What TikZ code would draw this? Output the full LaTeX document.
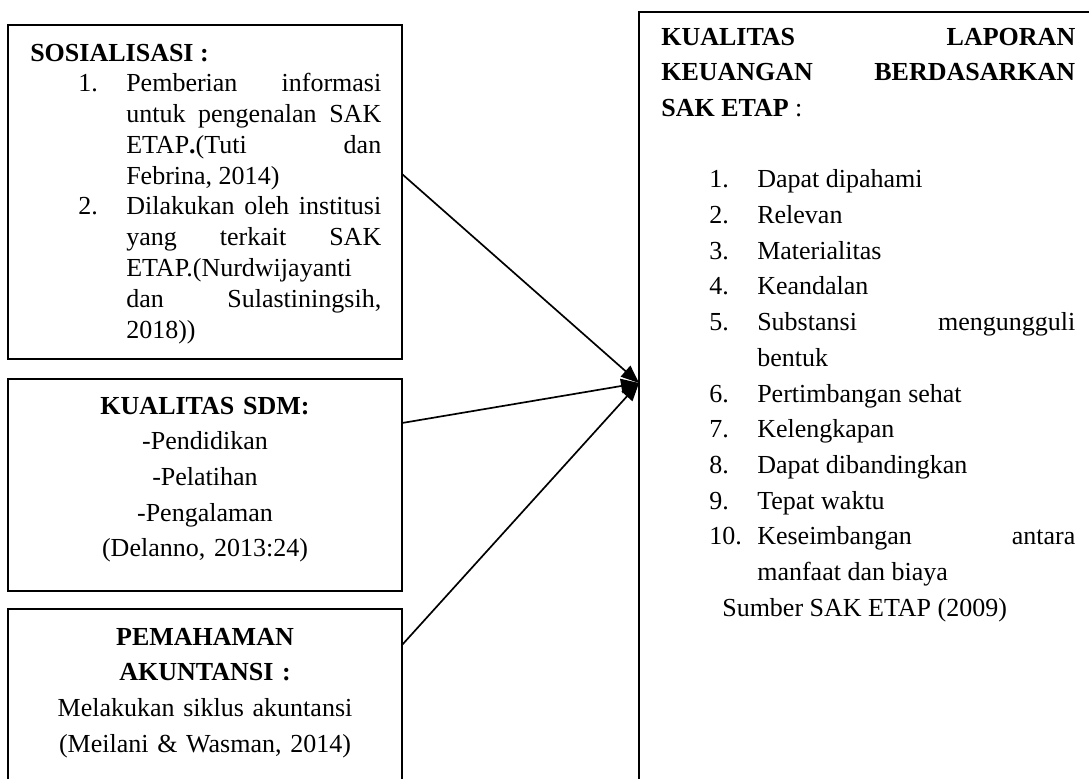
\documentclass[tikz,border=0pt]{standalone}
\usepackage{fontspec}
\setmainfont{Liberation Serif}
\usetikzlibrary{arrows.meta,calc,positioning}

\newcommand{\butir}[1]{\par\noindent\hangindent=2.4cm\hangafter=1\hspace*{1.2cm}\makebox[1.2cm][l]{#1}}

\begin{document}
\begin{tikzpicture}[
  kotak/.style={draw,line width=1pt,inner sep=0pt,outer sep=0pt,anchor=north west,minimum width=9.85cm},
  isi/.style={inner sep=0pt,font=\fontsize{18.5}{25.4}\selectfont},
  panah/.style={line width=1.2pt,-{Triangle[length=0.45cm,width=0.36cm]}}]
\useasboundingbox (0,0) rectangle (27.225,-19.45);
\clip (0,0) rectangle (27.225,-19.45);
% kotak kiri
\node[kotak,minimum height=8.35cm] (sos) at (0.2,-0.625) {};
\node[kotak,minimum height=5.3cm] (sdm) at (0.2,-9.475) {};
\node[kotak,minimum height=5.6cm] (pem) at (0.2,-15.225) {};
% kotak kanan
\node[kotak,minimum width=12cm,minimum height=20cm] (lap) at (15.975,-0.3) {};
% isi kotak
\node[isi,anchor=base west,text width=8.775cm,align=justify,font=\fontsize{18.5}{21.9}\selectfont] (sosTxt) at (0.75,-1.525) {\textbf{SOSIALISASI :}
\butir{1.}Pemberian informasi\linebreak untuk pengenalan SAK\linebreak ETAP\textbf{.}(Tuti dan\linebreak Febrina, 2014)
\butir{2.}Dilakukan oleh institusi\linebreak yang terkait SAK\linebreak ETAP.(Nurdwijayanti\linebreak dan Sulastiningsih,\linebreak 2018))\par};
\node[isi,anchor=base,text width=9cm,align=center] (sdmTxt) at (5.125,-10.35) {\textbf{KUALITAS SDM:}\\-Pendidikan\\-Pelatihan\\-Pengalaman\\(Delanno, 2013:24)};
\node[isi,anchor=base,text width=9cm,align=center] (pemTxt) at (5.125,-16.125) {\textbf{PEMAHAMAN}\\\textbf{AKUNTANSI :}\\Melakukan siklus akuntansi\\(Meilani \& Wasman, 2014)};
\node[isi,anchor=base west,text width=10.35cm,align=justify] (lapTxt) at (16.525,-1.125) {\textbf{KUALITAS LAPORAN\linebreak KEUANGAN BERDASARKAN\linebreak SAK ETAP} :\par\mbox{}
\butir{1.}Dapat dipahami
\butir{2.}Relevan
\butir{3.}Materialitas
\butir{4.}Keandalan
\butir{5.}Substansi mengungguli\linebreak bentuk
\butir{6.}Pertimbangan sehat
\butir{7.}Kelengkapan
\butir{8.}Dapat dibandingkan
\butir{9.}Tepat waktu
\butir{10.}Keseimbangan antara\linebreak manfaat dan biaya
\par\noindent\hspace*{1.525cm}Sumber SAK ETAP (2009)\par};
% panah
\coordinate (hit) at ($(lap.north west)+(0,-9.275)$);
\draw[panah] ($(sos.north east)+(0,-3.725)$) -- (hit);
\draw[panah] ($(sdm.north east)+(0,-1.1)$) -- (hit);
\draw[panah] ($(pem.north east)+(0,-0.9)$) -- (hit);
\end{tikzpicture}
\end{document}
